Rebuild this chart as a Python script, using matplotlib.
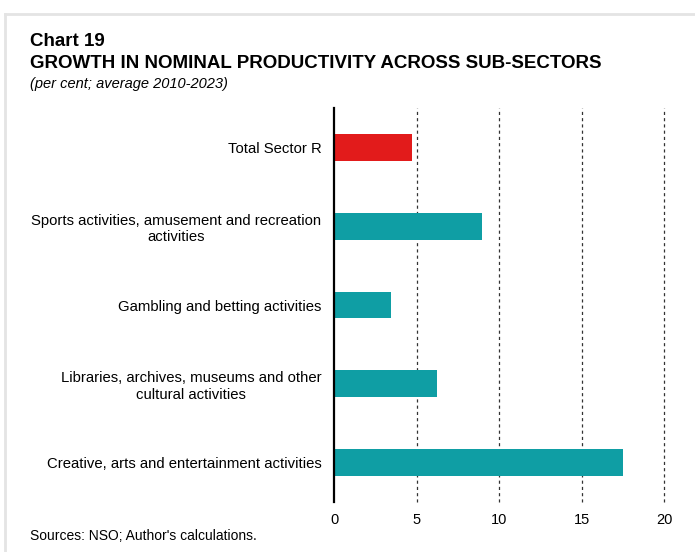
import matplotlib
matplotlib.use("Agg")
import matplotlib.pyplot as plt
from matplotlib.lines import Line2D

plt.rcParams["font.family"] = ["Liberation Sans", "DejaVu Sans"]

# bottom-to-top order as drawn on the chart
categories = [
    "Creative, arts and entertainment activities",
    "Libraries, archives, museums and other\ncultural activities",
    "Gambling and betting activities",
    "Sports activities, amusement and recreation\nactivities",
    "Total Sector R",
]
growth = [17.5, 6.25, 3.45, 8.95, 4.7]
colors = ["#0f9ea4", "#0f9ea4", "#0f9ea4", "#0f9ea4", "#e21b1b"]
xticks = [0, 5, 10, 15, 20]

fig = plt.figure(figsize=(6.95, 5.52), dpi=100)
ax = fig.add_axes([0.4806, 0.0906, 0.4748, 0.7137])

pos = range(len(categories))
ax.barh(pos, growth, height=0.34, color=colors, zorder=3)
ax.set_ylim(-0.5, len(categories) - 0.5)
ax.set_xlim(0, 20)
ax.set_xticks(xticks)
ax.set_xticklabels([str(t) for t in xticks], fontsize=10.5)
ax.set_yticks(list(pos))
ax.set_yticklabels(categories, fontsize=10.7, multialignment="center")
ax.tick_params(axis="both", length=0, pad=8)
ax.tick_params(axis="y", pad=9)

for t in xticks[1:]:
    ax.axvline(t, color="#333333", lw=0.9, ls=(0, (2.5, 2.5)), zorder=1,
               clip_on=False)

for side in ["top", "right", "bottom"]:
    ax.spines[side].set_visible(False)
ax.spines["left"].set_linewidth(1.6)
ax.spines["left"].set_color("black")
ax.spines["left"].set_zorder(4)

# light frame around the panel
fig.add_artist(Line2D([5 / 695, 1], [1 - 14 / 552, 1 - 14 / 552],
                      color="#e4e4e4", lw=2, transform=fig.transFigure))
fig.add_artist(Line2D([5 / 695, 5 / 695], [0, 1 - 14 / 552],
                      color="#e4e4e4", lw=2, transform=fig.transFigure))

fig.text(30 / 695, 1 - 42 / 552, "Chart 19", fontsize=13.5,
         fontweight="bold", va="center")
fig.text(30 / 695, 1 - 64 / 552,
         "GROWTH IN NOMINAL PRODUCTIVITY ACROSS SUB-SECTORS",
         fontsize=13.5, fontweight="bold", va="center")
fig.text(30 / 695, 1 - 84 / 552, "(per cent; average 2010-2023)",
         fontsize=10.5, style="italic", va="center")
fig.text(30 / 695, 1 - 536 / 552, "Sources: NSO; Author's calculations.",
         fontsize=10, va="center")

fig.savefig("out.png", dpi=100)
